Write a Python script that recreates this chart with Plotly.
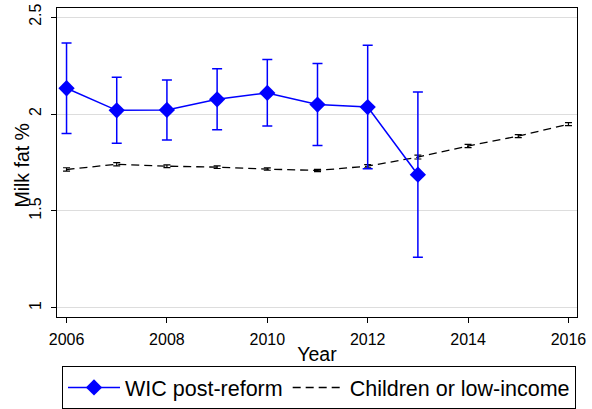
import plotly.graph_objects as go

# Survey years
years_wic = [2006, 2007, 2008, 2009, 2010, 2011, 2012, 2013]
years_all = [2006, 2007, 2008, 2009, 2010, 2011, 2012, 2013, 2014, 2015, 2016]

# WIC post-reform: mean milk fat % with confidence interval bounds
wic_mean = [2.133, 2.019, 2.021, 2.076, 2.109, 2.049, 2.036, 1.687]
wic_hi = [2.366, 2.190, 2.176, 2.233, 2.281, 2.261, 2.355, 2.114]
wic_lo = [1.899, 1.849, 1.866, 1.919, 1.938, 1.838, 1.718, 1.261]

# Children or low-income comparison group
cmp_mean = [1.714, 1.741, 1.731, 1.726, 1.716, 1.709, 1.731, 1.778, 1.835, 1.886, 1.948]
cmp_ci = [0.009, 0.008, 0.007, 0.007, 0.006, 0.006, 0.008, 0.010, 0.008, 0.008, 0.008]

y_ticks = [1, 1.5, 2, 2.5]
x_ticks = [2006, 2008, 2010, 2012, 2014, 2016]

FONT = "Liberation Sans, Arial, Helvetica, sans-serif"

fig = go.Figure()

fig.add_trace(go.Scatter(
    x=years_all, y=cmp_mean,
    mode="lines",
    name="Children or low-income",
    line=dict(color="black", width=1.3, dash="8px,5px"),
    error_y=dict(type="data", array=cmp_ci, color="black", thickness=1.2, width=3.5),
))

fig.add_trace(go.Scatter(
    x=years_wic, y=wic_mean,
    mode="lines+markers",
    name="WIC post-reform",
    line=dict(color="#0000ff", width=1.5),
    marker=dict(symbol="diamond", size=12.5, color="#0000ff"),
    error_y=dict(
        type="data", symmetric=False,
        array=[h - m for h, m in zip(wic_hi, wic_mean)],
        arrayminus=[m - l for m, l in zip(wic_mean, wic_lo)],
        color="#0000ff", thickness=1.5, width=5,
    ),
))

fig.update_layout(
    width=592, height=409,
    margin=dict(l=57, r=15, t=8, b=92),
    paper_bgcolor="white", plot_bgcolor="white",
    font=dict(family=FONT, color="black"),
    showlegend=True,
    legend=dict(
        orientation="h", traceorder="reversed",
        xref="container", yref="container",
        x=62 / 592, xanchor="left", y=1 - 366 / 409, yanchor="top",
        bordercolor="black", borderwidth=1,
        font=dict(size=21.5, family=FONT),
        itemwidth=52,
    ),
    annotations=[dict(
        text="Milk fat %", textangle=-90,
        xref="paper", yref="paper", x=0, y=0.49,
        xanchor="center", yanchor="middle", xshift=-35, showarrow=False,
        font=dict(size=19.5, family=FONT),
    )],
)

fig.update_xaxes(
    range=[2005.81, 2016.17], automargin=False,
    tickvals=x_ticks, ticks="outside", ticklen=5, tickcolor="black",
    tickfont=dict(size=16), ticklabelstandoff=3,
    showline=True, linecolor="black", linewidth=1.3, mirror=True,
    showgrid=False, zeroline=False,
    title=dict(text="Year", font=dict(size=19.5), standoff=0),
)

fig.update_yaxes(
    range=[0.953, 2.547], automargin=False,
    tickvals=y_ticks, ticktext=["1", "1.5", "2", "2.5"],
    tickangle=-90,
    ticks="outside", ticklen=5, tickcolor="black",
    tickfont=dict(size=16), ticklabelstandoff=3,
    showline=True, linecolor="black", linewidth=1.3, mirror=True,
    showgrid=True, gridcolor="#dddddd", gridwidth=1, zeroline=False,
)

fig.write_html("out.html")
